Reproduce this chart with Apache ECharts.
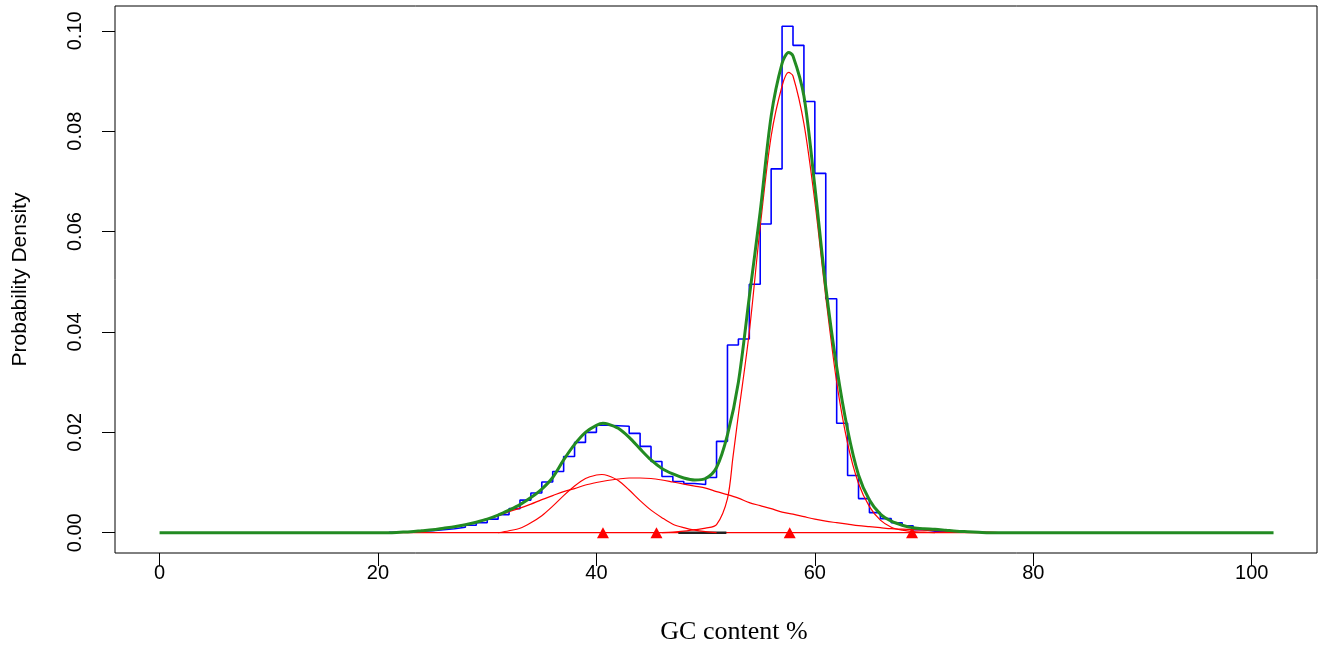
<!DOCTYPE html>
<html>
<head>
<meta charset="utf-8">
<script src="https://cdn.jsdelivr.net/npm/echarts@6/dist/echarts.min.js"></script>
<style>
html,body{margin:0;padding:0;background:#fff;}
#chart{width:1329px;height:646px;}
</style>
</head>
<body>
<div id="chart"></div>
<script>
// ---- data ----
const xTicks = [0, 20, 40, 60, 80, 100];
const yTicks = [0, 0.02, 0.04, 0.06, 0.08, 0.10];

// histogram: left bin edges (width 1) and densities
const histEdges = [21,22,23,24,25,26,27,28,29,30,31,32,33,34,35,36,37,38,39,40,
  41,42,43,44,45,46,47,48,49,50,51,52,53,54,55,56,57,58,59,60,
  61,62,63,64,65,66,67,68,69,70,71,72,73,74,75,76,77,78,79];
const histDensity = [0.0001,0.0002,0.0003,0.0004,0.0006,0.0008,0.0011,0.0015,0.0020,0.0027,
  0.0036,0.0048,0.0065,0.0079,0.0101,0.0122,0.0152,0.0180,0.0200,0.0214,
  0.0213,0.0212,0.0198,0.0172,0.0142,0.0112,0.0102,0.0098,0.0096,0.0110,
  0.0182,0.0374,0.0386,0.0495,0.0615,0.0725,0.1009,0.0971,0.0859,0.0716,
  0.0466,0.0218,0.0114,0.0068,0.0040,0.0028,0.0020,0.0014,0.0006,0.0003,
  0.0002,0.0001,0.0001,0.0001,0,0,0,0,0];

// total mixture density (green)
const totalX = [0,10,20,21,22,23,24,25,26,27,28,29,30,31,32,33,34,35,36,37,38,39,40,40.6,41,42,43,44,45,46,47,48,49,50,51,52,53,54,55,56,57,57.6,58,59,60,61,62,63,64,65,66,67,68,69,70,71,72,73,74,75,76,78,80,90,102];
const totalY = [0,0,0,0,0.0001,0.0002,0.0004,0.0006,0.0009,0.0012,0.0016,0.0021,0.0027,0.0035,0.0045,0.0056,0.0070,0.0087,0.0110,0.0145,0.0176,0.0200,0.0214,0.0218,0.0217,0.0208,0.0190,0.0167,0.0145,0.0128,0.0117,0.0109,0.0105,0.0108,0.0130,0.0195,0.0300,0.0470,0.0640,0.0830,0.0935,0.0957,0.0950,0.0870,0.0690,0.0490,0.0330,0.0205,0.0115,0.0065,0.0037,0.0023,0.0015,0.0010,0.0008,0.0007,0.0005,0.0003,0.0002,0.0001,0,0,0,0,0];

// mixture components (red)
const narrowX = [31,32,33,34,35,36,37,38,39,40,40.5,41,42,43,44,45,46,47,48,49,50,51];
const narrowY = [0,0.0004,0.0009,0.0020,0.0034,0.0053,0.0074,0.0093,0.0108,0.0115,0.0116,0.0114,0.0104,0.0085,0.0064,0.0045,0.0030,0.0017,0.0010,0.0005,0.0002,0];

const broadX = [21,22,23,24,25,26,27,28,29,30,31,32,33,34,35,36,37,38,39,40,41,42,43,44,45,46,47,48,49,50,51,52,53,54,55,56,57,58,59,60,61,62,63,64,65,66,67,68,69,70,71,72,73,74,75,76,77,78,79];
const broadY = [0,0.0001,0.0002,0.0004,0.0006,0.0009,0.0012,0.0016,0.0021,0.0027,0.0034,0.0042,0.0049,0.0057,0.0066,0.0074,0.0082,0.0088,0.0095,0.0100,0.0104,0.0107,0.0109,0.0109,0.0108,0.0105,0.0101,0.0097,0.0093,0.0089,0.0082,0.0076,0.0069,0.0060,0.0054,0.0048,0.0041,0.0037,0.0032,0.0027,0.0023,0.0020,0.0017,0.0014,0.0012,0.0010,0.0008,0.0007,0.0006,0.0005,0.0004,0.0003,0.0002,0.0002,0.0001,0.0001,0,0,0];

const mainX = [46,47,48,49,50,51,52,52.5,53,54,55,56,57,57.6,58,59,60,61,62,63,64,65,66,67,68,69,70,71];
const mainY = [0,0.0001,0.0003,0.0006,0.0009,0.0016,0.0068,0.0150,0.0235,0.0400,0.0610,0.0790,0.0890,0.0917,0.0910,0.0815,0.0660,0.0470,0.0300,0.0178,0.0098,0.0052,0.0025,0.0011,0.0005,0.0002,0.0001,0];

const baselineX = [21, 79];
const rugX = [47.5, 51.9];
const markerX = [40.6, 45.5, 57.7, 68.9];

// ---- build ----
const pairs = (xs, ys) => xs.map((x, i) => [x, ys[i]]);
const histData = histEdges.map((e, i) => [e, i < histDensity.length ? histDensity[i] : 0]);

const chart = echarts.init(document.getElementById('chart'), null, {renderer: 'canvas'});
const axisFont = '"Liberation Sans", Arial, sans-serif';

chart.setOption({
  animation: false,
  backgroundColor: '#fff',
  grid: {left: 115, right: 12, top: 6, bottom: 93, show: true, borderColor: '#000', borderWidth: 1, backgroundColor: 'transparent'},
  xAxis: {
    type: 'value', min: -4.08, max: 105.98,
    axisLine: {show: false, onZero: false},
    splitLine: {show: false},
    axisTick: {show: true, length: 13, lineStyle: {color: '#000', width: 1}, customValues: xTicks},
    axisLabel: {customValues: xTicks, margin: 10, color: '#000', fontSize: 20, fontFamily: axisFont}
  },
  yAxis: {
    type: 'value', min: -0.00404, max: 0.10494,
    axisLine: {show: false, onZero: false},
    splitLine: {show: false},
    axisTick: {show: true, length: 13, lineStyle: {color: '#000', width: 1}, customValues: yTicks},
    axisLabel: {customValues: yTicks, rotate: 90, margin: 30, color: '#000', fontSize: 20, fontFamily: axisFont,
      formatter: v => v.toFixed(2)},
    name: 'Probability Density', nameLocation: 'middle', nameGap: 84,
    nameTextStyle: {color: '#000', fontSize: 21, fontFamily: axisFont}
  },
  graphic: [{
    type: 'text', x: 734, y: 632,
    style: {text: 'GC content %', fill: '#000', font: '26px "Liberation Serif", "Times New Roman", serif', align: 'center', verticalAlign: 'middle'}
  }],
  series: [
    {type: 'line', name: 'hist', data: histData, step: 'end', symbol: 'none', z: 2,
      lineStyle: {color: '#0000FF', width: 1.6}},
    {type: 'line', name: 'baseline', data: baselineX.map(x => [x, 0]), symbol: 'none', z: 3,
      lineStyle: {color: '#FF0000', width: 1.3}},
    {type: 'line', name: 'rug', data: rugX.map(x => [x, 0]), symbol: 'none', z: 3,
      lineStyle: {color: '#222', width: 2.5}},
    {type: 'line', name: 'narrow', data: pairs(narrowX, narrowY), smooth: 0.3, symbol: 'none', z: 3,
      lineStyle: {color: '#FF0000', width: 1.2}},
    {type: 'line', name: 'broad', data: pairs(broadX, broadY), smooth: 0.3, symbol: 'none', z: 3,
      lineStyle: {color: '#FF0000', width: 1.2}},
    {type: 'line', name: 'main', data: pairs(mainX, mainY), smooth: 0.3, symbol: 'none', z: 3,
      lineStyle: {color: '#FF0000', width: 1.2}},
    {type: 'scatter', name: 'means', data: markerX.map(x => [x, 0]), symbol: 'triangle', symbolSize: [12, 11], z: 4,
      itemStyle: {color: '#FF0000', opacity: 1}},
    {type: 'line', name: 'total', data: pairs(totalX, totalY), smooth: 0.3, symbol: 'none', z: 5,
      lineStyle: {color: '#228B22', width: 3}}
  ]
});
</script>
</body>
</html>
